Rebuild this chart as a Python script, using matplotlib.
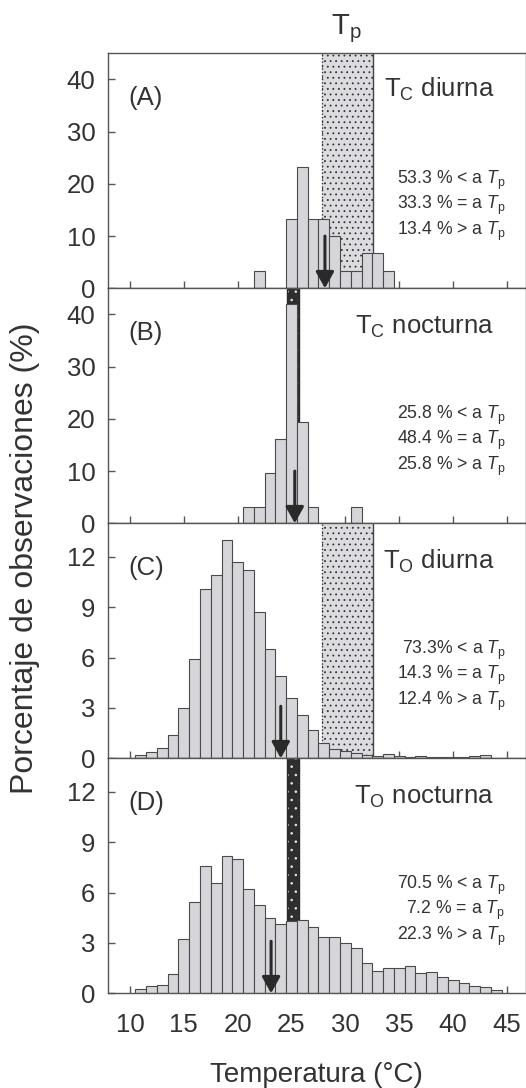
import matplotlib
matplotlib.use("Agg")
import matplotlib.pyplot as plt

plt.rcParams['font.family'] = ['Liberation Sans', 'DejaVu Sans']
plt.rcParams['mathtext.fontset'] = 'custom'
plt.rcParams['mathtext.rm'] = 'Liberation Sans'
plt.rcParams['mathtext.it'] = 'Liberation Sans:italic'
plt.rcParams['hatch.linewidth'] = 0.6

# ---- data ----
A_temps = [22, 25, 26, 27, 28, 29, 30, 31, 32, 33, 34]
A_vals = [3.3, 13.3, 23.3, 13.3, 13.3, 10.0, 3.3, 3.3, 6.7, 6.7, 3.3]

B_temps = [21, 22, 23, 24, 25, 26, 27, 31]
B_vals = [3.2, 3.2, 9.7, 16.1, 41.9, 19.4, 3.2, 3.2]

C_temps = list(range(11, 44))
C_vals = [0.2, 0.4, 0.6, 1.4, 3.0, 5.9, 10.1, 10.9, 13.0, 11.7,
          11.2, 8.7, 6.5, 4.9, 3.6, 2.6, 1.7, 0.9, 0.55, 0.45,
          0.3, 0.2, 0.15, 0.25, 0.15, 0.1, 0.15, 0.05, 0.05, 0.06,
          0.1, 0.15, 0.2]

D_temps = list(range(11, 45))
D_vals = [0.24, 0.46, 0.5, 1.13, 3.23, 5.46, 7.6, 6.6, 8.19, 8.0,
          6.19, 5.24, 4.5, 4.1, 4.33, 4.35, 3.97, 3.35, 3.35, 2.98,
          2.7, 1.79, 1.33, 1.53, 1.53, 1.63, 1.19, 1.25, 0.99, 0.79,
          0.6, 0.46, 0.36, 0.2]

Tp_day = (27.8, 32.6)
Tp_night = (24.55, 25.7)

arrow_x = [28.1, 25.3, 24.0, 23.1]
arrow_top = [10.0, 10.0, 3.1, 3.1]

panel_letters = ['(A)', '(B)', '(C)', '(D)']
panel_titles = [r'T$_\mathrm{C}$ diurna', r'T$_\mathrm{C}$ nocturna',
                r'T$_\mathrm{O}$ diurna', r'T$_\mathrm{O}$ nocturna']
stats = [
    ['53.3 % < a', '33.3 % = a', '13.4 % > a'],
    ['25.8 % < a', '48.4 % = a', '25.8 % > a'],
    ['73.3% < a', '14.3 % = a', '12.4 % > a'],
    ['70.5 % < a', '7.2 % = a', '22.3 % > a'],
]
ymax = [45, 45, 14, 14]
yticks = [[0, 10, 20, 30, 40], [0, 10, 20, 30, 40], [0, 3, 6, 9, 12], [0, 3, 6, 9, 12]]
xticks = [10, 15, 20, 25, 30, 35, 40, 45]

temps_list = [A_temps, B_temps, C_temps, D_temps]
vals_list = [A_vals, B_vals, C_vals, D_vals]
bands = [Tp_day, Tp_night, Tp_day, Tp_night]
band_dark = [False, True, False, True]

# ---- figure ----
W, H = 526, 1088
fig = plt.figure(figsize=(W / 100, H / 100), dpi=100)

left = 108 / W
width = (525.5 - 108) / W
ph = 235 / H
bottom0 = 1 - 993.3 / H

TXT = '#333333'
EDGE = '#4a4a4a'
SP = '#555555'

axes = []
for i in range(4):
    b = bottom0 + (3 - i) * ph
    ax = fig.add_axes([left, b, width, ph])
    axes.append(ax)
    ax.set_xlim(7.96, 46.72)
    ax.set_ylim(0, ymax[i])

    lo, hi = bands[i]
    if band_dark[i]:
        ax.axvspan(lo, hi, facecolor='#2e2e2e', edgecolor='#e8e8e8', hatch='..',
                   lw=0, zorder=1)
        ax.axvline(lo, color='#2a2a2a', lw=1, zorder=1.2)
        ax.axvline(hi, color='#2a2a2a', lw=1, zorder=1.2)
    else:
        ax.axvspan(lo, hi, facecolor='#dcdce0', edgecolor='#333333', hatch='...',
                   lw=0, zorder=1)
        ax.axvline(lo, color='#333333', lw=1, ls=(0, (1, 1.5)), zorder=1.2)
        ax.axvline(hi, color='#444444', lw=1, zorder=1.2)

    ax.bar(temps_list[i], vals_list[i], width=1.0, align='center',
           facecolor='#d6d6da', edgecolor=EDGE, linewidth=0.8, zorder=2)

    ax.annotate('', xy=(arrow_x[i], 0), xytext=(arrow_x[i], arrow_top[i]),
                arrowprops=dict(arrowstyle='-|>,head_length=0.45,head_width=0.25',
                                color='#2a2a2a', lw=2.2, mutation_scale=22,
                                shrinkA=0, shrinkB=0),
                zorder=3)

    ax.text(0.048, 0.78, panel_letters[i], transform=ax.transAxes,
            fontsize=18.5, color=TXT, ha='left', va='baseline')
    ax.text(0.925, 0.805 if i else 0.815, panel_titles[i], transform=ax.transAxes,
            fontsize=18.5, color=TXT, ha='right', va='baseline')
    for j, s in enumerate(stats[i]):
        ax.text(0.952, [0.445, 0.337, 0.225][j], s + r' $T_\mathrm{p}$',
                transform=ax.transAxes, fontsize=12.7, color=TXT,
                ha='right', va='baseline')

    ax.set_yticks(yticks[i])
    ax.set_xticks(xticks)
    ax.tick_params(direction='in', length=5, width=1, color=SP,
                   labelsize=18.5, labelcolor=TXT)
    ax.tick_params(axis='y', pad=9)
    ax.tick_params(axis='x', pad=14)
    if i < 3:
        ax.tick_params(axis='x', labelbottom=False)
    for sp in ax.spines.values():
        sp.set_color(SP)
        sp.set_linewidth(1)
        sp.set_zorder(4)

# Tp label on top
axes[0].text(30.1, 1.08, r'T$_\mathrm{p}$', transform=axes[0].get_xaxis_transform(),
             fontsize=21, color=TXT, ha='center', va='baseline')

fig.text(316 / W, 1 - 1075 / H, 'Temperatura (°C)', fontsize=20, color=TXT,
         ha='center', va='center')
fig.text(25 / W, 1 - 558 / H, 'Porcentaje de observaciones (%)', fontsize=23,
         color=TXT, ha='center', va='center', rotation=90)

fig.savefig('out.png', dpi=100)
